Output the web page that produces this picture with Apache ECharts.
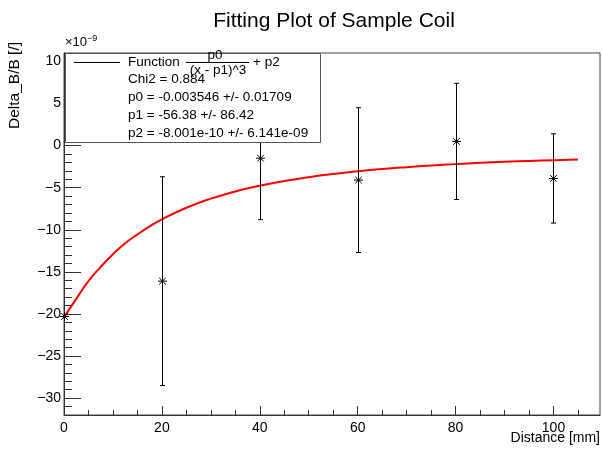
<!DOCTYPE html>
<html>
<head>
<meta charset="utf-8">
<script src="https://cdn.jsdelivr.net/npm/echarts@6/dist/echarts.min.js"></script>
<style>html,body{margin:0;padding:0;background:#fff}#c{width:603px;height:450px}</style>
</head>
<body>
<div id="c"></div>
<script>
// ---- data (values in units of 1e-9) ----
var distance = [0, 20, 40, 60, 80, 100];
var deltaB = [-20.3, -16.1, -1.5, -4.1, 0.5, -3.9];
var deltaErr = [0, 12.4, 7.3, 8.6, 6.9, 5.3];

// fitted curve
var fitX = [0, 2.5, 5, 7.5, 10, 12.5, 15, 17.5, 20, 25, 30, 35, 40, 45, 50, 55, 60, 65, 70, 75, 80, 85, 90, 95, 100, 105];
var fitY = [-20.4, -18.2, -16.1, -14.4, -12.9, -11.6, -10.55, -9.6, -8.76, -7.38, -6.3, -5.45, -4.76, -4.2, -3.75, -3.37, -3.05, -2.78, -2.56, -2.37, -2.2, -2.05, -1.93, -1.82, -1.73, -1.64];

var xMajorTicks = [0, 20, 40, 60, 80, 100];
var xMinorTicks = [0, 5, 10, 15, 20, 25, 30, 35, 40, 45, 50, 55, 60, 65, 70, 75, 80, 85, 90, 95, 100, 105];
var yMajorTicks = [-30, -25, -20, -15, -10, -5, 0, 5, 10];
var yMinorTicks = [-32, -31, -30, -29, -28, -27, -26, -25, -24, -23, -22, -21, -20, -19, -18, -17, -16, -15, -14, -13, -12, -11, -10, -9, -8, -7, -6, -5, -4, -3, -2, -1, 0, 1, 2, 3, 4, 5, 6, 7, 8, 9, 10, 11];

var legendLines = [
  'Chi2 = 0.884',
  'p0 = -0.003546 +/- 0.01709',
  'p1 = -56.38 +/- 86.42',
  'p2 = -8.001e-10 +/- 6.141e-09'
];

var FONT = '"Liberation Sans", Arial, Helvetica, sans-serif';
var chart = echarts.init(document.getElementById('c'), null, {renderer: 'canvas'});

var pts = distance.map(function (d, i) { return [d, deltaB[i], deltaErr[i]]; });
var fit = fitX.map(function (x, i) { return [x, fitY[i]]; });

function fmt(v) { return String(v).replace('-', '\u2212'); }

var axisColor = '#333';
var LF = 13.5;
var option = {
  animation: false,
  backgroundColor: '#fff',
  grid: {left: 64, right: 3, top: 53, bottom: 35, show: true, borderColor: '#444', borderWidth: 1, backgroundColor: 'transparent'},
  xAxis: [{
    type: 'value', min: 0, max: 109.5, position: 'bottom',
    axisLine: {show: true, onZero: false, lineStyle: {color: axisColor, width: 1}},
    axisTick: {show: true, inside: true, length: 9, customValues: xMajorTicks, lineStyle: {color: axisColor}},
    axisLabel: {show: true, customValues: xMajorTicks, margin: 6, fontSize: 14, color: '#000', fontFamily: FONT, formatter: fmt},
    splitLine: {show: false}
  }, {
    type: 'value', min: 0, max: 109.5, position: 'bottom',
    axisLine: {show: false, onZero: false},
    axisTick: {show: true, inside: true, length: 5, customValues: xMinorTicks, lineStyle: {color: axisColor}},
    axisLabel: {show: false},
    splitLine: {show: false}
  }],
  yAxis: [{
    type: 'value', min: -32, max: 11, position: 'left',
    axisLine: {show: true, onZero: false, lineStyle: {color: axisColor, width: 1}},
    axisTick: {show: true, inside: true, length: 17, customValues: yMajorTicks, lineStyle: {color: axisColor}},
    axisLabel: {show: true, customValues: yMajorTicks, margin: 3, fontSize: 14, color: '#000', fontFamily: FONT, formatter: fmt},
    splitLine: {show: false}
  }, {
    type: 'value', min: -32, max: 11, position: 'left',
    axisLine: {show: false, onZero: false},
    axisTick: {show: true, inside: true, length: 8, customValues: yMinorTicks, lineStyle: {color: axisColor}},
    axisLabel: {show: false},
    splitLine: {show: false}
  }],
  series: [{
    type: 'line', xAxisIndex: 0, yAxisIndex: 0, data: fit, smooth: true, showSymbol: false,
    lineStyle: {color: '#ff0000', width: 2}, z: 3, clip: true
  }, {
    type: 'custom', xAxisIndex: 0, yAxisIndex: 0, data: pts, z: 4, clip: false,
    renderItem: function (params, api) {
      var x = api.value(0), y = api.value(1), e = api.value(2);
      var c = api.coord([x, y]);
      var t = api.coord([x, y + e]);
      var b = api.coord([x, y - e]);
      var cx = Math.round(c[0]) + 0.5;
      var st = {stroke: '#000', lineWidth: 1};
      var ch = [];
      if (e > 0) {
        ch.push({type: 'line', shape: {x1: cx, y1: t[1], x2: cx, y2: b[1]}, style: st});
        ch.push({type: 'line', shape: {x1: cx - 2.5, y1: t[1], x2: cx + 2.5, y2: t[1]}, style: st});
        ch.push({type: 'line', shape: {x1: cx - 2.5, y1: b[1], x2: cx + 2.5, y2: b[1]}, style: st});
      }
      var r = 4.5, d = 3.3;
      ch.push({type: 'line', shape: {x1: cx - r, y1: c[1], x2: cx + r, y2: c[1]}, style: st});
      ch.push({type: 'line', shape: {x1: cx, y1: c[1] - r, x2: cx, y2: c[1] + r}, style: st});
      ch.push({type: 'line', shape: {x1: cx - d, y1: c[1] - d, x2: cx + d, y2: c[1] + d}, style: st});
      ch.push({type: 'line', shape: {x1: cx - d, y1: c[1] + d, x2: cx + d, y2: c[1] - d}, style: st});
      return {type: 'group', children: ch};
    }
  }],
  graphic: [
    {type: 'text', x: 334, y: 21, z: 100, style: {text: 'Fitting Plot of Sample Coil', fontSize: 21, fontFamily: FONT, fill: '#000', textAlign: 'center', textVerticalAlign: 'middle'}},
    {type: 'text', x: 65, y: 51, z: 100, style: {text: '\u00d710{s|\u22129}', fontSize: 13, fontFamily: FONT, fill: '#000', textVerticalAlign: 'bottom',
      rich: {s: {fontSize: 9, fontFamily: FONT, verticalAlign: 'top', padding: [0, 0, 8, 0]}}}},
    {type: 'text', x: 600, y: 438, z: 100, style: {text: 'Distance [mm]', fontSize: 14, fontFamily: FONT, fill: '#000', textAlign: 'right', textVerticalAlign: 'middle'}},
    {type: 'text', x: 15, y: 42, z: 100, rotation: Math.PI / 2, style: {text: 'Delta_B/B [/]', fontSize: 15.5, fontFamily: FONT, fill: '#000', textAlign: 'right', textVerticalAlign: 'middle'}},
    // stats/legend box
    {type: 'rect', z: 100, shape: {x: 65.5, y: 53.5, width: 255, height: 89}, style: {fill: '#fff', stroke: '#555', lineWidth: 1}},
    {type: 'line', z: 101, shape: {x1: 74, y1: 62.5, x2: 120, y2: 62.5}, style: {stroke: '#000', lineWidth: 1}},
    {type: 'text', z: 101, x: 128, y: 62, style: {text: 'Function', fontSize: LF, fontFamily: FONT, fill: '#000', textVerticalAlign: 'middle'}},
    {type: 'text', z: 101, x: 215, y: 55, style: {text: 'p0', fontSize: LF, fontFamily: FONT, fill: '#000', textAlign: 'center', textVerticalAlign: 'middle'}},
    {type: 'line', z: 101, shape: {x1: 186, y1: 62.5, x2: 249, y2: 62.5}, style: {stroke: '#000', lineWidth: 1}},
    {type: 'text', z: 101, x: 218, y: 70, style: {text: '(x - p1)^3', fontSize: LF, fontFamily: FONT, fill: '#000', textAlign: 'center', textVerticalAlign: 'middle'}},
    {type: 'text', z: 101, x: 253, y: 62, style: {text: '+ p2', fontSize: LF, fontFamily: FONT, fill: '#000', textVerticalAlign: 'middle'}},
    {type: 'text', z: 101, x: 128, y: 79, style: {text: legendLines[0], fontSize: LF, fontFamily: FONT, fill: '#000', textVerticalAlign: 'middle'}},
    {type: 'text', z: 101, x: 128, y: 97, style: {text: legendLines[1], fontSize: LF, fontFamily: FONT, fill: '#000', textVerticalAlign: 'middle'}},
    {type: 'text', z: 101, x: 128, y: 115, style: {text: legendLines[2], fontSize: LF, fontFamily: FONT, fill: '#000', textVerticalAlign: 'middle'}},
    {type: 'text', z: 101, x: 128, y: 133, style: {text: legendLines[3], fontSize: LF, fontFamily: FONT, fill: '#000', textVerticalAlign: 'middle'}}
  ]
};
chart.setOption(option);
</script>
</body>
</html>
